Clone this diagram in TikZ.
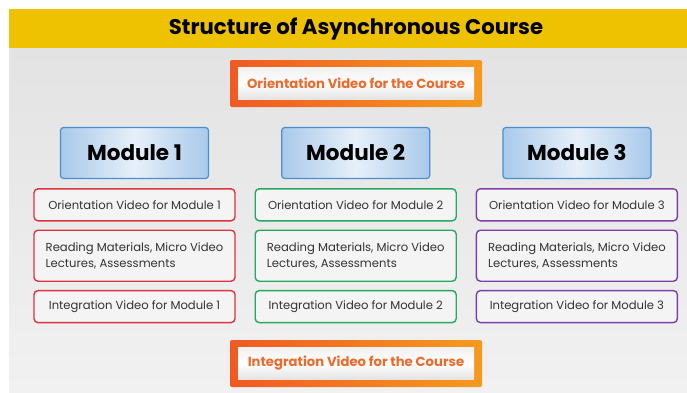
\documentclass[tikz,border=0pt]{standalone}
\usepackage{fontspec}
\setmainfont{Poppins}
\usetikzlibrary{positioning}
\definecolor{bandyellow}{HTML}{EEC200}
\definecolor{bggray}{HTML}{E3E3E3}
\definecolor{bglight}{HTML}{F1F1F1}
\definecolor{orangeleft}{HTML}{F05A22}
\definecolor{orangeright}{HTML}{F59A1E}
\definecolor{coursetext}{HTML}{EE6A2C}
\definecolor{moduleblue}{HTML}{4A90D0}
\definecolor{moduleedge}{HTML}{A9C9EA}
\definecolor{modulemid}{HTML}{E6F0FA}
\definecolor{boxgray}{HTML}{F4F4F4}
\definecolor{textgray}{HTML}{333333}
\definecolor{mod1red}{HTML}{DC3340}
\definecolor{mod2green}{HTML}{27A85F}
\definecolor{mod3purple}{HTML}{7E3FA6}
\tikzstyle{frame} = [rectangle, rounded corners=2pt, minimum width=252pt, minimum height=47pt, inner sep=0pt, left color=orangeleft, right color=orangeright]
\tikzstyle{course} = [rectangle, minimum width=236pt, minimum height=32pt, inner sep=0pt, top color=bglight, bottom color=bggray, middle color=white, text=coursetext, font=\fontsize{13.2}{15}\selectfont\bfseries]
\tikzstyle{module} = [rectangle, draw=moduleblue, line width=1.2pt, rounded corners=3pt, minimum width=148pt, minimum height=51pt, left color=moduleedge, right color=moduleedge, middle color=modulemid, font=\fontsize{21.5}{25}\selectfont\bfseries]
\tikzstyle{stepbox} = [rectangle, draw, line width=1.4pt, rounded corners=4pt, fill=boxgray, minimum width=201pt, minimum height=32pt, text=textgray, align=left, font=\fontsize{11.6}{16}\selectfont]

\begin{document}
\begin{tikzpicture}[x=1pt, y=1pt, node distance=8pt and 72pt]

	% Background
	\useasboundingbox (0,0) rectangle (687,-392);
	\fill[white] (0,0) rectangle (687,-392);
	\shade[top color=bggray, bottom color=bglight] (9,-48) rectangle (687,-392);
	\fill[bandyellow] (9,-9) rectangle (687,-48);
	\node (title) at (356,-29) [font=\fontsize{21.2}{25}\selectfont\bfseries] {Structure of Asynchronous Course};

	% Course level videos
	\node (orient_frame) [frame] at (356,-83.5) {};
	\node (orient_course) [course] at (orient_frame) {Orientation Video for the Course};
	\node (integ_frame) [frame] at (356,-363.5) {};
	\node (integ_course) [course] at (integ_frame) {Integration Video for the Course};

	% Modules
	\node (mod1) [module] at (134.5,-153) {Module 1};
	\node (mod2) [module, right=of mod1] {Module 2};
	\node (mod3) [module, right=of mod2] {Module 3};

	% Module 1
	\node (orient1) [stepbox, draw=mod1red, below=9pt of mod1] {Orientation Video for Module 1};
	\node (read1) [stepbox, draw=mod1red, minimum height=51pt, below=of orient1] {Reading Materials, Micro Video\\Lectures, Assessments};
	\node (integ1) [stepbox, draw=mod1red, below=of read1] {Integration Video for Module 1};

	% Module 2
	\node (orient2) [stepbox, draw=mod2green, below=9pt of mod2] {Orientation Video for Module 2};
	\node (read2) [stepbox, draw=mod2green, minimum height=51pt, below=of orient2] {Reading Materials, Micro Video\\Lectures, Assessments};
	\node (integ2) [stepbox, draw=mod2green, below=of read2] {Integration Video for Module 2};

	% Module 3
	\node (orient3) [stepbox, draw=mod3purple, below=9pt of mod3] {Orientation Video for Module 3};
	\node (read3) [stepbox, draw=mod3purple, minimum height=51pt, below=of orient3] {Reading Materials, Micro Video\\Lectures, Assessments};
	\node (integ3) [stepbox, draw=mod3purple, below=of read3] {Integration Video for Module 3};

\end{tikzpicture}
\end{document}
